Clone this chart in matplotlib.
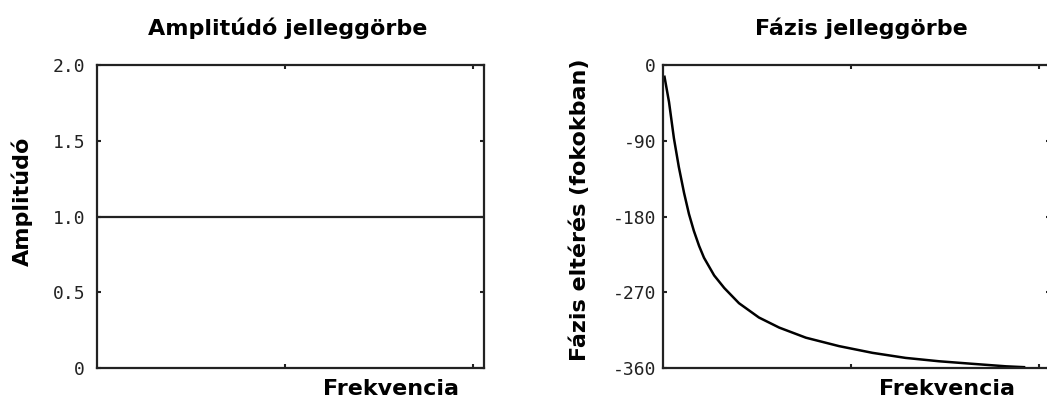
import matplotlib
matplotlib.use("Agg")
from matplotlib import pyplot as plt

# Amplitude response: flat at 1.0 over the whole band
amp_freq = [0.0, 1.029]
amp_values = [1.0, 1.0]

# Phase response (degrees)
phase_freq = [0.004, 0.016, 0.029, 0.042, 0.056, 0.069, 0.082, 0.096, 0.109,
              0.136, 0.163, 0.202, 0.255, 0.309, 0.380, 0.468, 0.557, 0.645,
              0.734, 0.822, 0.912, 0.960]
phase_values = [-14, -44, -87, -121, -152, -177, -197, -215, -229,
                -250, -265, -283, -300, -312, -324, -334, -342, -348,
                -352, -355, -358, -359]

amp_ticks = [0, 0.5, 1.0, 1.5, 2.0]
amp_ticklabels = ["0", "0.5", "1.0", "1.5", "2.0"]
phase_ticks = [0, -90, -180, -270, -360]
phase_ticklabels = ["0", "-90", "-180", "-270", "-360"]
freq_ticks = [0.5, 1.0]

W, H = 1047, 401
fig = plt.figure(figsize=(W / 100, H / 100), dpi=100)

title_font = dict(family="DejaVu Sans", weight="bold", size=16)
tick_font = "DejaVu Sans Mono"
line_col = "#222222"


def make_axes(left_px, title, title_x, ylabel, ylabel_xy, xlabel_x, ylim, yticks, ylabels, ypad):
    ax = fig.add_axes([left_px / W, (H - 368) / H, 387 / W, 303 / H])
    for sp in ax.spines.values():
        sp.set_linewidth(1.6)
        sp.set_color(line_col)
    ax.set_xlim(0, 1.029)
    ax.set_ylim(*ylim)
    ax.set_xticks(freq_ticks)
    ax.set_xticklabels([])
    ax.set_yticks(yticks)
    ax.set_yticklabels(ylabels, family=tick_font, size=13, color="#222222")
    ax.tick_params(direction="in", length=3, width=1.5, color=line_col,
                   top=True, right=True, bottom=True, left=True)
    ax.tick_params(axis="y", pad=ypad)
    ax.text(title_x, 1.099, title, transform=ax.transAxes, ha="center",
            va="baseline", **title_font)
    ax.set_ylabel(ylabel, **title_font)
    ax.yaxis.set_label_coords(*ylabel_xy)
    ax.set_xlabel("Frekvencia", **title_font)
    ax.xaxis.set_label_coords(xlabel_x, -0.037)
    return ax


ax1 = make_axes(97, "Amplitúdó jelleggörbe", 0.492, "Amplitúdó", (-0.165, 0.551),
                0.76, (0, 2), amp_ticks, amp_ticklabels, 8.6)
ax1.plot(amp_freq, amp_values, color=line_col, linewidth=1.6)

ax2 = make_axes(663, "Fázis jelleggörbe", 0.512, "Fázis eltérés (fokokban)", (-0.189, 0.523),
                0.734, (-360, 0), phase_ticks, phase_ticklabels, 5)
ax2.plot(phase_freq, phase_values, color="black", linewidth=1.8)

fig.savefig("out.png", dpi=100, facecolor="white")
